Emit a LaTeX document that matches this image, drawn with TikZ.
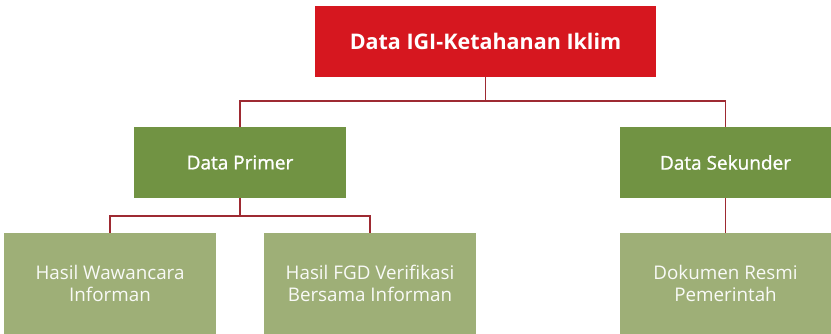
\documentclass[tikz,border=0pt]{standalone}
\usepackage{fontspec}
\setmainfont{Open Sans}
\newfontfamily\semifont[FakeBold=1.2]{Open Sans}
\definecolor{topred}{HTML}{D6171F}
\definecolor{midgreen}{HTML}{719343}
\definecolor{leafgreen}{HTML}{9EAF77}
\definecolor{linkred}{HTML}{9E2A32}
\begin{document}
\begin{tikzpicture}[x=1pt,y=-1pt,
  rootbox/.style={fill=topred,draw=none,minimum width=341pt,minimum height=71pt,inner sep=0pt,
    text=white,font=\fontsize{21.5}{25}\selectfont\bfseries},
  midbox/.style={fill=midgreen,draw=none,minimum width=212pt,minimum height=71pt,inner sep=0pt,
    text=white,font=\semifont\fontsize{19}{23}\selectfont},
  leafbox/.style={fill=leafgreen,draw=none,minimum width=212pt,minimum height=101pt,inner sep=0pt,
    text=white!94!leafgreen,align=center,font=\fontsize{18.8}{21.5}\selectfont},
  link/.style={draw=linkred,line width=1.4pt}]
\useasboundingbox (0,0) rectangle (831,334);
% boxes
\node[rootbox] (root) at (485.5,41.5) {Data IGI-Ketahanan Iklim};
\node[midbox] (prim) at (240,162.5) {Data Primer};
\node[midbox,minimum width=211pt] (sek) at (725.5,162.5) {Data Sekunder};
\node[leafbox] (waw) at (110,283.5) {Hasil Wawancara\\Informan};
\node[leafbox] (fgd) at (370,283.5) {Hasil FGD Verifikasi\\Bersama Informan};
\node[leafbox,minimum width=211pt] (dok) at (725.5,283.5) {Dokumen Resmi\\Pemerintah};
% connectors
\draw[link] (root.south) -- (root.south |- 0,101) -| (prim.north);
\draw[link] (root.south |- 0,101) -| (sek.north);
\draw[link] (prim.south) -- (prim.south |- 0,216) -| (waw.north);
\draw[link] (prim.south |- 0,216) -| (fgd.north);
\draw[link] (sek.south) -- (dok.north);
\end{tikzpicture}
\end{document}
